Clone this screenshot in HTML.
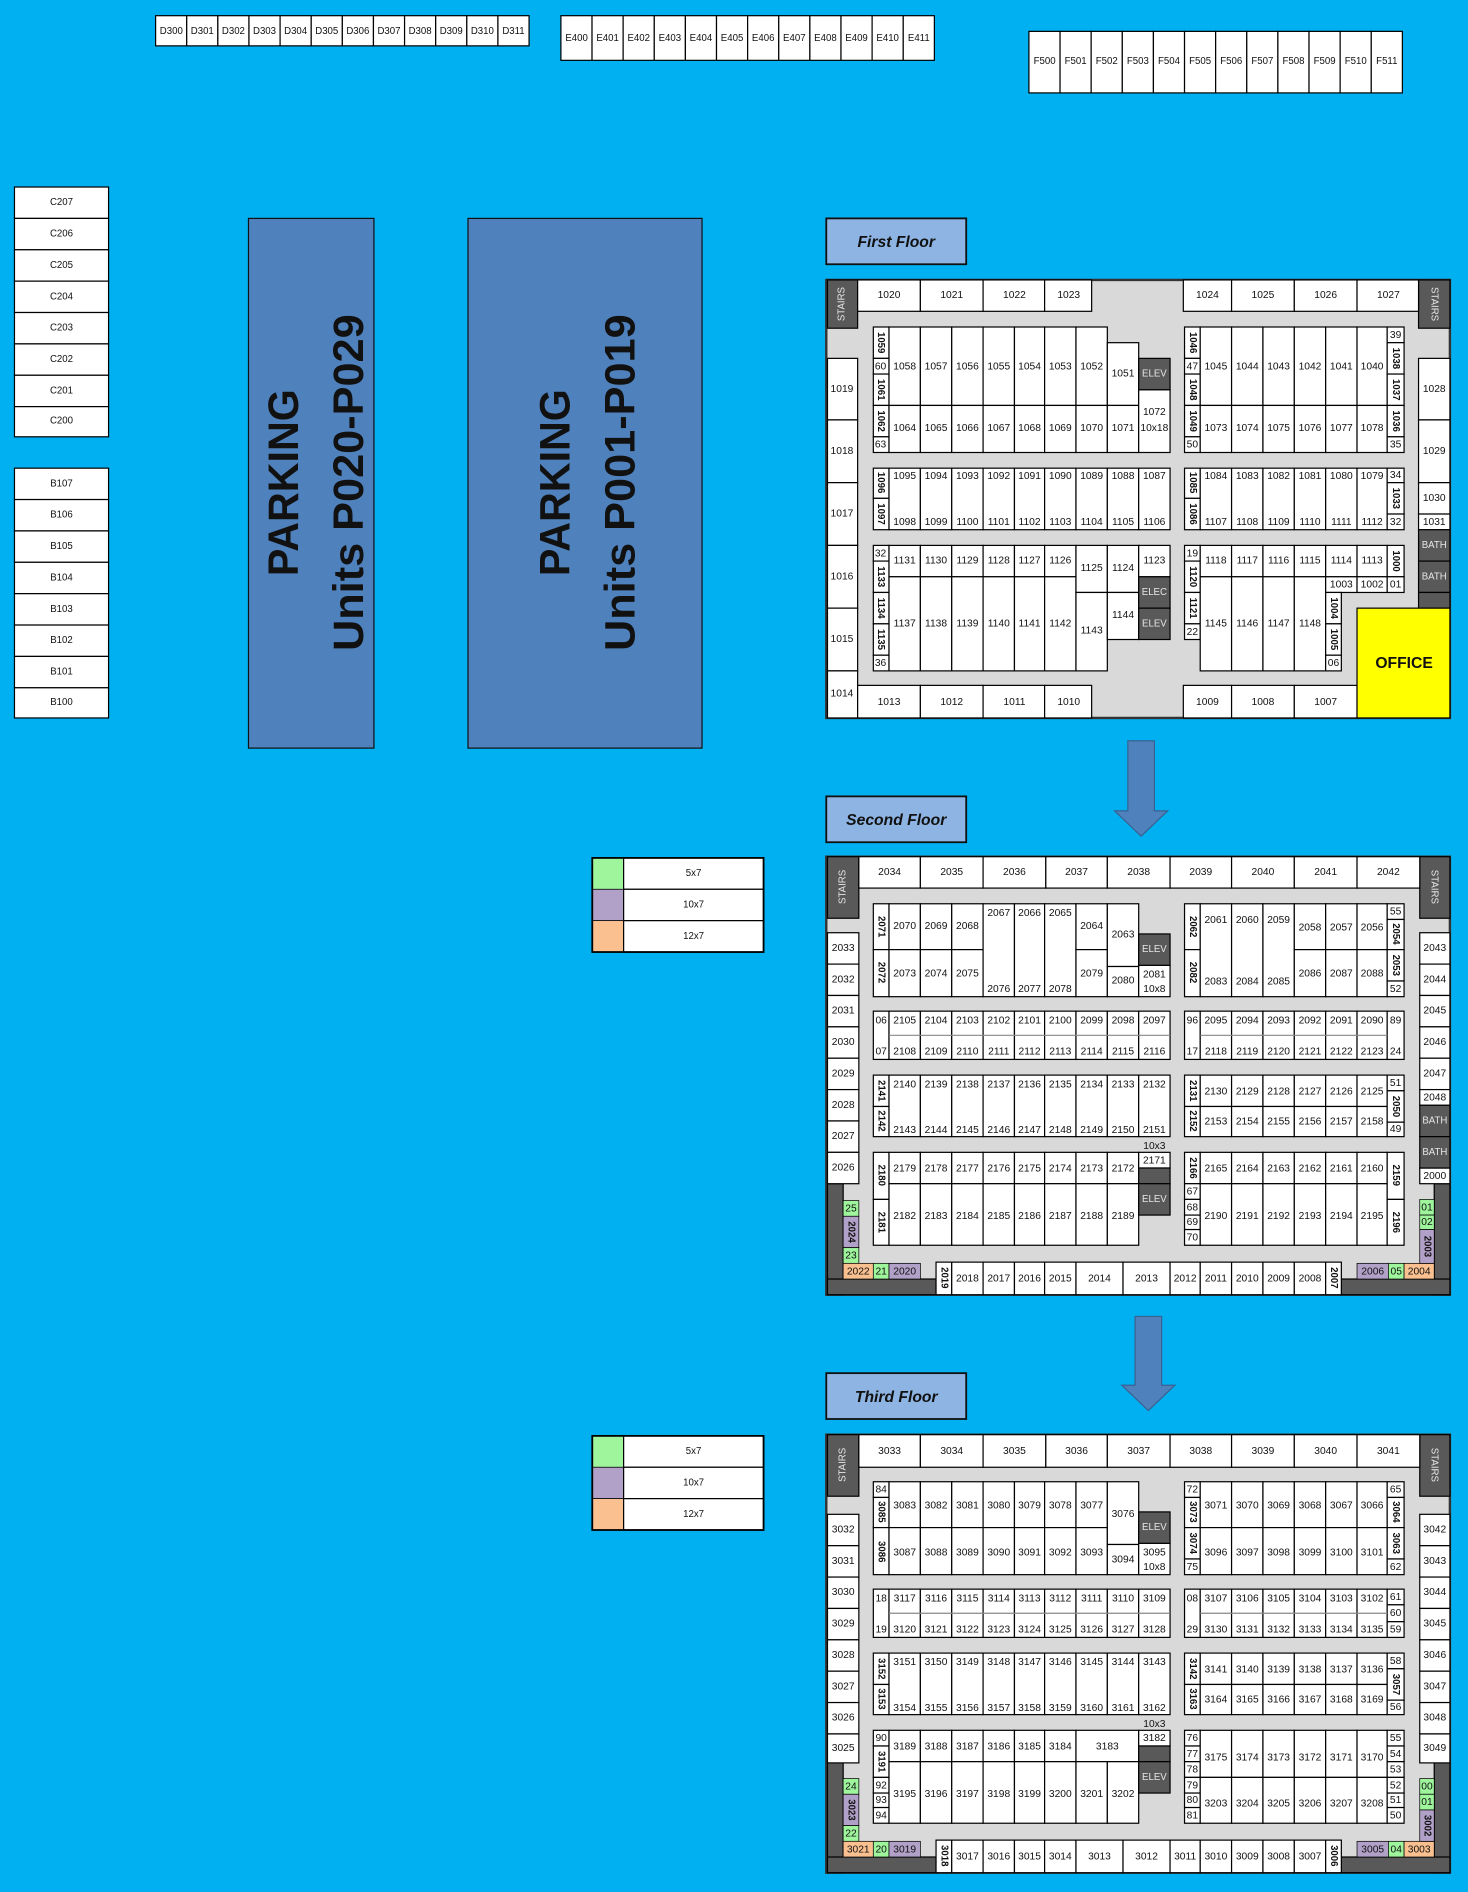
<!DOCTYPE html>
<html><head><meta charset="utf-8"><style>
html,body{margin:0;padding:0;background:#00b0f0;}
svg{display:block}
text{font-family:"Liberation Sans",sans-serif;font-size:8.5px;text-anchor:middle;dominant-baseline:central;fill:#111}
.c rect,rect.c{fill:#fff;stroke:#000;stroke-width:1}
rect.k{fill:#595959;stroke:#000;stroke-width:1}
rect.g{fill:#9ef59c;stroke:#000;stroke-width:.6}
rect.p{fill:#b1a0c7;stroke:#000;stroke-width:.6}
rect.o{fill:#fac090;stroke:#000;stroke-width:.6}
text.w{fill:#e6e6e6;font-size:8px}
text.v{font-weight:bold;font-size:8px}
text.s{font-size:8px}
</style></head><body>
<svg width="1468" height="1892" viewBox="0 0 1217 1568" preserveAspectRatio="none" xmlns="http://www.w3.org/2000/svg">
<rect x="0" y="0" width="1217" height="1568" fill="#00b0f0"/>

<!-- D row -->
<g class="c">
<rect x="129" y="13" width="25.8" height="25"/><text x="142" y="26" class="s">D300</text>
<rect x="154.8" y="13" width="25.8" height="25"/><text x="167.7" y="26" class="s">D301</text>
<rect x="180.6" y="13" width="25.8" height="25"/><text x="193.5" y="26" class="s">D302</text>
<rect x="206.4" y="13" width="25.8" height="25"/><text x="219.3" y="26" class="s">D303</text>
<rect x="232.2" y="13" width="25.8" height="25"/><text x="245.1" y="26" class="s">D304</text>
<rect x="258" y="13" width="25.8" height="25"/><text x="270.9" y="26" class="s">D305</text>
<rect x="283.8" y="13" width="25.8" height="25"/><text x="296.7" y="26" class="s">D306</text>
<rect x="309.6" y="13" width="25.8" height="25"/><text x="322.5" y="26" class="s">D307</text>
<rect x="335.4" y="13" width="25.8" height="25"/><text x="348.3" y="26" class="s">D308</text>
<rect x="361.2" y="13" width="25.8" height="25"/><text x="374.1" y="26" class="s">D309</text>
<rect x="387" y="13" width="25.8" height="25"/><text x="399.9" y="26" class="s">D310</text>
<rect x="412.8" y="13" width="25.8" height="25"/><text x="425.7" y="26" class="s">D311</text>
</g>
<!-- E row -->
<g class="c">
<rect x="465" y="13" width="25.8" height="37"/><text x="478" y="32" class="s">E400</text>
<rect x="490.8" y="13" width="25.8" height="37"/><text x="503.7" y="32" class="s">E401</text>
<rect x="516.6" y="13" width="25.8" height="37"/><text x="529.5" y="32" class="s">E402</text>
<rect x="542.4" y="13" width="25.8" height="37"/><text x="555.3" y="32" class="s">E403</text>
<rect x="568.2" y="13" width="25.8" height="37"/><text x="581.1" y="32" class="s">E404</text>
<rect x="594" y="13" width="25.8" height="37"/><text x="606.9" y="32" class="s">E405</text>
<rect x="619.8" y="13" width="25.8" height="37"/><text x="632.7" y="32" class="s">E406</text>
<rect x="645.6" y="13" width="25.8" height="37"/><text x="658.5" y="32" class="s">E407</text>
<rect x="671.4" y="13" width="25.8" height="37"/><text x="684.3" y="32" class="s">E408</text>
<rect x="697.2" y="13" width="25.8" height="37"/><text x="710.1" y="32" class="s">E409</text>
<rect x="723" y="13" width="25.8" height="37"/><text x="735.9" y="32" class="s">E410</text>
<rect x="748.8" y="13" width="25.8" height="37"/><text x="761.7" y="32" class="s">E411</text>
</g>
<!-- F row -->
<g class="c">
<rect x="853" y="26" width="25.8" height="51"/><text x="866" y="51" class="s">F500</text>
<rect x="878.8" y="26" width="25.8" height="51"/><text x="891.7" y="51" class="s">F501</text>
<rect x="904.6" y="26" width="25.8" height="51"/><text x="917.5" y="51" class="s">F502</text>
<rect x="930.4" y="26" width="25.8" height="51"/><text x="943.3" y="51" class="s">F503</text>
<rect x="956.2" y="26" width="25.8" height="51"/><text x="969.1" y="51" class="s">F504</text>
<rect x="982" y="26" width="25.8" height="51"/><text x="994.9" y="51" class="s">F505</text>
<rect x="1007.8" y="26" width="25.8" height="51"/><text x="1020.7" y="51" class="s">F506</text>
<rect x="1033.6" y="26" width="25.8" height="51"/><text x="1046.5" y="51" class="s">F507</text>
<rect x="1059.4" y="26" width="25.8" height="51"/><text x="1072.3" y="51" class="s">F508</text>
<rect x="1085.2" y="26" width="25.8" height="51"/><text x="1098.1" y="51" class="s">F509</text>
<rect x="1111" y="26" width="25.8" height="51"/><text x="1123.9" y="51" class="s">F510</text>
<rect x="1136.8" y="26" width="25.8" height="51"/><text x="1149.7" y="51" class="s">F511</text>
</g>
<!-- C column -->
<g class="c">
<rect x="12" y="155" width="78" height="26"/><text x="51" y="168" class="s">C207</text>
<rect x="12" y="181" width="78" height="26"/><text x="51" y="194" class="s">C206</text>
<rect x="12" y="207" width="78" height="26"/><text x="51" y="220" class="s">C205</text>
<rect x="12" y="233" width="78" height="26"/><text x="51" y="246" class="s">C204</text>
<rect x="12" y="259" width="78" height="26"/><text x="51" y="272" class="s">C203</text>
<rect x="12" y="285" width="78" height="26"/><text x="51" y="298" class="s">C202</text>
<rect x="12" y="311" width="78" height="26"/><text x="51" y="324" class="s">C201</text>
<rect x="12" y="337" width="78" height="25"/><text x="51" y="349" class="s">C200</text>
</g>
<g class="c">
<rect x="12" y="388" width="78" height="26"/><text x="51" y="401" class="s">B107</text>
<rect x="12" y="414" width="78" height="26"/><text x="51" y="427" class="s">B106</text>
<rect x="12" y="440" width="78" height="26"/><text x="51" y="453" class="s">B105</text>
<rect x="12" y="466" width="78" height="26"/><text x="51" y="479" class="s">B104</text>
<rect x="12" y="492" width="78" height="26"/><text x="51" y="505" class="s">B103</text>
<rect x="12" y="518" width="78" height="26"/><text x="51" y="531" class="s">B102</text>
<rect x="12" y="544" width="78" height="26"/><text x="51" y="557" class="s">B101</text>
<rect x="12" y="570" width="78" height="25"/><text x="51" y="582" class="s">B100</text>
</g>

<!-- Parking -->
<rect x="206" y="181" width="104" height="439" fill="#4f81bd" stroke="#111" stroke-width="1"/>
<rect x="388" y="181" width="194" height="439" fill="#4f81bd" stroke="#111" stroke-width="1"/>
<g style="font-weight:bold">
<text x="247" y="400" transform="rotate(-90 247 400)" style="font-size:35px;dominant-baseline:alphabetic;font-weight:bold" textLength="155" lengthAdjust="spacingAndGlyphs">PARKING</text>
<text x="301" y="400" transform="rotate(-90 301 400)" style="font-size:35px;dominant-baseline:alphabetic;font-weight:bold" textLength="279" lengthAdjust="spacingAndGlyphs">Units P020-P029</text>
<text x="472" y="400" transform="rotate(-90 472 400)" style="font-size:35px;dominant-baseline:alphabetic;font-weight:bold" textLength="155" lengthAdjust="spacingAndGlyphs">PARKING</text>
<text x="526" y="400" transform="rotate(-90 526 400)" style="font-size:35px;dominant-baseline:alphabetic;font-weight:bold" textLength="279" lengthAdjust="spacingAndGlyphs">Units P001-P019</text>
</g>

<!-- Floor labels -->
<rect x="685" y="181" width="116" height="38" fill="#8db4e2" stroke="#111" stroke-width="1.5"/>
<text x="743" y="201" style="font-size:13px;font-weight:bold;font-style:italic">First Floor</text>
<rect x="685" y="660" width="116" height="38" fill="#8db4e2" stroke="#111" stroke-width="1.5"/>
<text x="743" y="680" style="font-size:13px;font-weight:bold;font-style:italic">Second Floor</text>
<rect x="685" y="1138" width="116" height="38" fill="#8db4e2" stroke="#111" stroke-width="1.5"/>
<text x="743" y="1158" style="font-size:13px;font-weight:bold;font-style:italic">Third Floor</text>

<!-- Arrows -->
<polygon points="935,614 957,614 957,672 968,672 946,693 924,672 935,672" fill="#4f81bd" stroke="#3a6190" stroke-width="1"/>
<polygon points="941,1091 963,1091 963,1148 974,1148 952,1169 930,1148 941,1148" fill="#4f81bd" stroke="#3a6190" stroke-width="1"/>

<!-- Legends -->
<rect x="491" y="711" width="26" height="26" class="g"/><rect x="517" y="711" width="116" height="26" class="c"/><text x="575" y="724" class="s">5x7</text>
<rect x="491" y="737" width="26" height="26" class="p"/><rect x="517" y="737" width="116" height="26" class="c"/><text x="575" y="750" class="s">10x7</text>
<rect x="491" y="763" width="26" height="26" class="o"/><rect x="517" y="763" width="116" height="26" class="c"/><text x="575" y="776" class="s">12x7</text>
<rect x="491" y="711" width="142" height="78" fill="none" stroke="#000" stroke-width="1.5"/>
<rect x="491" y="1190" width="26" height="26" class="g"/><rect x="517" y="1190" width="116" height="26" class="c"/><text x="575" y="1203" class="s">5x7</text>
<rect x="491" y="1216" width="26" height="26" class="p"/><rect x="517" y="1216" width="116" height="26" class="c"/><text x="575" y="1229" class="s">10x7</text>
<rect x="491" y="1242" width="26" height="26" class="o"/><rect x="517" y="1242" width="116" height="26" class="c"/><text x="575" y="1255" class="s">12x7</text>
<rect x="491" y="1190" width="142" height="78" fill="none" stroke="#000" stroke-width="1.5"/>

<!-- ================= FLOOR 1 ================= -->
<rect x="685" y="232" width="517" height="363" fill="#d9d9d9" stroke="#333" stroke-width="2"/>
<rect class="k" x="686" y="232" width="25" height="40"/><text class="w" x="698" y="252" transform="rotate(-90 698 252)">STAIRS</text>
<rect class="k" x="1176" y="232" width="26" height="40"/><text class="w" x="1189" y="252" transform="rotate(90 1189 252)">STAIRS</text>
<g class="c">
<rect x="711" y="232" width="52" height="26"/><text x="737" y="245">1020</text>
<rect x="763" y="232" width="52" height="26"/><text x="789" y="245">1021</text>
<rect x="815" y="232" width="51" height="26"/><text x="841" y="245">1022</text>
<rect x="866" y="232" width="39" height="26"/><text x="886" y="245">1023</text>
<rect x="981" y="232" width="40" height="26"/><text x="1001" y="245">1024</text>
<rect x="1021" y="232" width="52" height="26"/><text x="1047" y="245">1025</text>
<rect x="1073" y="232" width="52" height="26"/><text x="1099" y="245">1026</text>
<rect x="1125" y="232" width="51" height="26"/><text x="1151" y="245">1027</text>
<rect x="686" y="297" width="25" height="51"/><text x="698" y="323">1019</text>
<rect x="686" y="348" width="25" height="52"/><text x="698" y="374">1018</text>
<rect x="686" y="400" width="25" height="52"/><text x="698" y="426">1017</text>
<rect x="686" y="452" width="25" height="52"/><text x="698" y="478">1016</text>
<rect x="686" y="504" width="25" height="52"/><text x="698" y="530">1015</text>
<rect x="686" y="556" width="25" height="39"/><text x="698" y="575">1014</text>
<rect x="711" y="568" width="52" height="27"/><text x="737" y="582">1013</text>
<rect x="763" y="568" width="52" height="27"/><text x="789" y="582">1012</text>
<rect x="815" y="568" width="51" height="27"/><text x="841" y="582">1011</text>
<rect x="866" y="568" width="39" height="27"/><text x="886" y="582">1010</text>
<rect x="981" y="568" width="40" height="27"/><text x="1001" y="582">1009</text>
<rect x="1021" y="568" width="52" height="27"/><text x="1047" y="582">1008</text>
<rect x="1073" y="568" width="52" height="27"/><text x="1099" y="582">1007</text>
<rect x="1176" y="297" width="26" height="51"/><text x="1189" y="323">1028</text>
<rect x="1176" y="348" width="26" height="52"/><text x="1189" y="374">1029</text>
<rect x="1176" y="400" width="26" height="26"/><text x="1189" y="413">1030</text>
<rect x="1176" y="426" width="26" height="13"/><text x="1189" y="433">1031</text>
</g>
<rect class="k" x="1176" y="439" width="26" height="26"/><text class="w" x="1189" y="452">BATH</text>
<rect class="k" x="1176" y="465" width="26" height="26"/><text class="w" x="1189" y="478">BATH</text>
<rect class="k" x="1176" y="491" width="26" height="13"/>
<rect x="1125" y="504" width="77" height="91" fill="#ffff00" stroke="#000" stroke-width="1"/>
<text x="1164" y="550" style="font-size:13px;font-weight:bold">OFFICE</text>

<!-- F1 Block A -->
<g class="c">
<rect x="724" y="271" width="13" height="26"/><text class="v" x="730" y="284" transform="rotate(90 730 284)">1059</text>
<rect x="724" y="297" width="13" height="13"/><text x="730" y="304">60</text>
<rect x="724" y="310" width="13" height="26"/><text class="v" x="730" y="323" transform="rotate(90 730 323)">1061</text>
<rect x="724" y="336" width="13" height="26"/><text class="v" x="730" y="349" transform="rotate(90 730 349)">1062</text>
<rect x="724" y="362" width="13" height="13"/><text x="730" y="369">63</text>
<rect x="737" y="271" width="26" height="65"/><text x="750" y="304">1058</text>
<rect x="763" y="271" width="26" height="65"/><text x="776" y="304">1057</text>
<rect x="789" y="271" width="26" height="65"/><text x="802" y="304">1056</text>
<rect x="815" y="271" width="26" height="65"/><text x="828" y="304">1055</text>
<rect x="841" y="271" width="25" height="65"/><text x="853.5" y="304">1054</text>
<rect x="866" y="271" width="26" height="65"/><text x="879" y="304">1053</text>
<rect x="892" y="271" width="26" height="65"/><text x="905" y="304">1052</text>
<rect x="918" y="284" width="26" height="52"/><text x="931" y="310">1051</text>
<rect x="737" y="336" width="26" height="39"/><text x="750" y="355">1064</text>
<rect x="763" y="336" width="26" height="39"/><text x="776" y="355">1065</text>
<rect x="789" y="336" width="26" height="39"/><text x="802" y="355">1066</text>
<rect x="815" y="336" width="26" height="39"/><text x="828" y="355">1067</text>
<rect x="841" y="336" width="25" height="39"/><text x="853.5" y="355">1068</text>
<rect x="866" y="336" width="26" height="39"/><text x="879" y="355">1069</text>
<rect x="892" y="336" width="26" height="39"/><text x="905" y="355">1070</text>
<rect x="918" y="336" width="26" height="39"/><text x="931" y="355">1071</text>
<rect x="944" y="323" width="26" height="52"/><text x="957" y="342">1072</text><text x="957" y="355">10x18</text>
</g>
<rect class="k" x="944" y="297" width="26" height="26"/><text class="w" x="957" y="310">ELEV</text>
<!-- F1 Block B -->
<g class="c">
<rect x="982" y="271" width="13" height="26"/><text class="v" x="988.5" y="284" transform="rotate(90 988.5 284)">1046</text>
<rect x="982" y="297" width="13" height="13"/><text x="988.5" y="304">47</text>
<rect x="982" y="310" width="13" height="26"/><text class="v" x="988.5" y="323" transform="rotate(90 988.5 323)">1048</text>
<rect x="982" y="336" width="13" height="26"/><text class="v" x="988.5" y="349" transform="rotate(90 988.5 349)">1049</text>
<rect x="982" y="362" width="13" height="13"/><text x="988.5" y="369">50</text>
<rect x="995" y="271" width="26" height="65"/><text x="1008" y="304">1045</text>
<rect x="1021" y="271" width="26" height="65"/><text x="1034" y="304">1044</text>
<rect x="1047" y="271" width="26" height="65"/><text x="1060" y="304">1043</text>
<rect x="1073" y="271" width="26" height="65"/><text x="1086" y="304">1042</text>
<rect x="1099" y="271" width="26" height="65"/><text x="1112" y="304">1041</text>
<rect x="1125" y="271" width="25" height="65"/><text x="1137.5" y="304">1040</text>
<rect x="995" y="336" width="26" height="39"/><text x="1008" y="355">1073</text>
<rect x="1021" y="336" width="26" height="39"/><text x="1034" y="355">1074</text>
<rect x="1047" y="336" width="26" height="39"/><text x="1060" y="355">1075</text>
<rect x="1073" y="336" width="26" height="39"/><text x="1086" y="355">1076</text>
<rect x="1099" y="336" width="26" height="39"/><text x="1112" y="355">1077</text>
<rect x="1125" y="336" width="25" height="39"/><text x="1137.5" y="355">1078</text>
<rect x="1150" y="271" width="14" height="13"/><text x="1157" y="278">39</text>
<rect x="1150" y="284" width="14" height="26"/><text class="v" x="1157" y="297" transform="rotate(90 1157 297)">1038</text>
<rect x="1150" y="310" width="14" height="26"/><text class="v" x="1157" y="323" transform="rotate(90 1157 323)">1037</text>
<rect x="1150" y="336" width="14" height="26"/><text class="v" x="1157" y="349" transform="rotate(90 1157 349)">1036</text>
<rect x="1150" y="362" width="14" height="13"/><text x="1157" y="369">35</text>
</g>
<!-- F1 Block C -->
<g class="c">
<rect x="724" y="388" width="13" height="25"/><text class="v" x="730" y="400" transform="rotate(90 730 400)">1096</text>
<rect x="724" y="413" width="13" height="26"/><text class="v" x="730" y="426" transform="rotate(90 730 426)">1097</text>
<rect x="737" y="388" width="26" height="51"/><text x="750" y="395">1095</text><text x="750" y="433">1098</text>
<rect x="763" y="388" width="26" height="51"/><text x="776" y="395">1094</text><text x="776" y="433">1099</text>
<rect x="789" y="388" width="26" height="51"/><text x="802" y="395">1093</text><text x="802" y="433">1100</text>
<rect x="815" y="388" width="26" height="51"/><text x="828" y="395">1092</text><text x="828" y="433">1101</text>
<rect x="841" y="388" width="25" height="51"/><text x="853.5" y="395">1091</text><text x="853.5" y="433">1102</text>
<rect x="866" y="388" width="26" height="51"/><text x="879" y="395">1090</text><text x="879" y="433">1103</text>
<rect x="892" y="388" width="26" height="51"/><text x="905" y="395">1089</text><text x="905" y="433">1104</text>
<rect x="918" y="388" width="26" height="51"/><text x="931" y="395">1088</text><text x="931" y="433">1105</text>
<rect x="944" y="388" width="26" height="51"/><text x="957" y="395">1087</text><text x="957" y="433">1106</text>
</g>
<!-- F1 Block D -->
<g class="c">
<rect x="982" y="388" width="13" height="25"/><text class="v" x="988.5" y="400" transform="rotate(90 988.5 400)">1085</text>
<rect x="982" y="413" width="13" height="26"/><text class="v" x="988.5" y="426" transform="rotate(90 988.5 426)">1086</text>
<rect x="995" y="388" width="26" height="51"/><text x="1008" y="395">1084</text><text x="1008" y="433">1107</text>
<rect x="1021" y="388" width="26" height="51"/><text x="1034" y="395">1083</text><text x="1034" y="433">1108</text>
<rect x="1047" y="388" width="26" height="51"/><text x="1060" y="395">1082</text><text x="1060" y="433">1109</text>
<rect x="1073" y="388" width="26" height="51"/><text x="1086" y="395">1081</text><text x="1086" y="433">1110</text>
<rect x="1099" y="388" width="26" height="51"/><text x="1112" y="395">1080</text><text x="1112" y="433">1111</text>
<rect x="1125" y="388" width="25" height="51"/><text x="1137.5" y="395">1079</text><text x="1137.5" y="433">1112</text>
<rect x="1150" y="388" width="14" height="12"/><text x="1157" y="394">34</text>
<rect x="1150" y="400" width="14" height="26"/><text class="v" x="1157" y="413" transform="rotate(90 1157 413)">1033</text>
<rect x="1150" y="426" width="14" height="13"/><text x="1157" y="433">32</text>
</g>
<!-- F1 Block E -->
<g class="c">
<rect x="724" y="452" width="13" height="13"/><text x="730" y="459">32</text>
<rect x="724" y="465" width="13" height="26"/><text class="v" x="730" y="478" transform="rotate(90 730 478)">1133</text>
<rect x="724" y="491" width="13" height="26"/><text class="v" x="730" y="504" transform="rotate(90 730 504)">1134</text>
<rect x="724" y="517" width="13" height="26"/><text class="v" x="730" y="530" transform="rotate(90 730 530)">1135</text>
<rect x="724" y="543" width="13" height="13"/><text x="730" y="550">36</text>
<rect x="737" y="452" width="26" height="26"/><text x="750" y="465">1131</text>
<rect x="763" y="452" width="26" height="26"/><text x="776" y="465">1130</text>
<rect x="789" y="452" width="26" height="26"/><text x="802" y="465">1129</text>
<rect x="815" y="452" width="26" height="26"/><text x="828" y="465">1128</text>
<rect x="841" y="452" width="25" height="26"/><text x="853.5" y="465">1127</text>
<rect x="866" y="452" width="26" height="26"/><text x="879" y="465">1126</text>
<rect x="737" y="478" width="26" height="78"/><text x="750" y="517">1137</text>
<rect x="763" y="478" width="26" height="78"/><text x="776" y="517">1138</text>
<rect x="789" y="478" width="26" height="78"/><text x="802" y="517">1139</text>
<rect x="815" y="478" width="26" height="78"/><text x="828" y="517">1140</text>
<rect x="841" y="478" width="25" height="78"/><text x="853.5" y="517">1141</text>
<rect x="866" y="478" width="26" height="78"/><text x="879" y="517">1142</text>
<rect x="892" y="452" width="26" height="39"/><text x="905" y="471">1125</text>
<rect x="892" y="491" width="26" height="65"/><text x="905" y="523">1143</text>
<rect x="918" y="452" width="26" height="39"/><text x="931" y="471">1124</text>
<rect x="918" y="491" width="26" height="39"/><text x="931" y="510">1144</text>
<rect x="944" y="452" width="26" height="26"/><text x="957" y="465">1123</text>
</g>
<rect class="k" x="944" y="478" width="26" height="26"/><text class="w" x="957" y="491">ELEC</text>
<rect class="k" x="944" y="504" width="26" height="26"/><text class="w" x="957" y="517">ELEV</text>
<!-- F1 Block F -->
<g class="c">
<rect x="982" y="452" width="13" height="13"/><text x="988.5" y="459">19</text>
<rect x="982" y="465" width="13" height="26"/><text class="v" x="988.5" y="478" transform="rotate(90 988.5 478)">1120</text>
<rect x="982" y="491" width="13" height="26"/><text class="v" x="988.5" y="504" transform="rotate(90 988.5 504)">1121</text>
<rect x="982" y="517" width="13" height="13"/><text x="988.5" y="524">22</text>
<rect x="995" y="452" width="26" height="26"/><text x="1008" y="465">1118</text>
<rect x="1021" y="452" width="26" height="26"/><text x="1034" y="465">1117</text>
<rect x="1047" y="452" width="26" height="26"/><text x="1060" y="465">1116</text>
<rect x="1073" y="452" width="26" height="26"/><text x="1086" y="465">1115</text>
<rect x="1099" y="452" width="26" height="26"/><text x="1112" y="465">1114</text>
<rect x="1125" y="452" width="25" height="26"/><text x="1137.5" y="465">1113</text>
<rect x="995" y="478" width="26" height="78"/><text x="1008" y="517">1145</text>
<rect x="1021" y="478" width="26" height="78"/><text x="1034" y="517">1146</text>
<rect x="1047" y="478" width="26" height="78"/><text x="1060" y="517">1147</text>
<rect x="1073" y="478" width="26" height="78"/><text x="1086" y="517">1148</text>
<rect x="1099" y="478" width="26" height="13"/><text x="1112" y="485">1003</text>
<rect x="1125" y="478" width="25" height="13"/><text x="1137.5" y="485">1002</text>
<rect x="1150" y="452" width="14" height="26"/><text class="v" x="1157" y="465" transform="rotate(90 1157 465)">1000</text>
<rect x="1150" y="478" width="14" height="13"/><text x="1157" y="485">01</text>
<rect x="1099" y="491" width="13" height="26"/><text class="v" x="1105.5" y="504" transform="rotate(90 1105.5 504)">1004</text>
<rect x="1099" y="517" width="13" height="26"/><text class="v" x="1105.5" y="530" transform="rotate(90 1105.5 530)">1005</text>
<rect x="1099" y="543" width="13" height="13"/><text x="1105.5" y="550">06</text>
</g>

<!-- ================= FLOOR 2 ================= -->
<rect x="685" y="710" width="517" height="363" fill="#d9d9d9" stroke="#333" stroke-width="2"/>
<rect class="k" x="686" y="710" width="26" height="51"/><text class="w" x="699" y="735" transform="rotate(-90 699 735)">STAIRS</text>
<rect class="k" x="1177" y="710" width="25" height="51"/><text class="w" x="1189" y="735" transform="rotate(90 1189 735)">STAIRS</text>
<rect class="k" x="686" y="981" width="13" height="92"/><rect class="k" x="686" y="1060" width="90" height="13"/>
<rect class="k" x="1189" y="981" width="13" height="92"/><rect class="k" x="1112" y="1060" width="90" height="13"/>
<g class="c">
<rect x="712" y="710" width="51" height="26"/><text x="737.5" y="723">2034</text>
<rect x="763" y="710" width="52" height="26"/><text x="789" y="723">2035</text>
<rect x="815" y="710" width="52" height="26"/><text x="841" y="723">2036</text>
<rect x="867" y="710" width="51" height="26"/><text x="892.5" y="723">2037</text>
<rect x="918" y="710" width="52" height="26"/><text x="944" y="723">2038</text>
<rect x="970" y="710" width="51" height="26"/><text x="995.5" y="723">2039</text>
<rect x="1021" y="710" width="52" height="26"/><text x="1047" y="723">2040</text>
<rect x="1073" y="710" width="52" height="26"/><text x="1099" y="723">2041</text>
<rect x="1125" y="710" width="52" height="26"/><text x="1151" y="723">2042</text>
<rect x="686" y="773" width="26" height="26"/><text x="699" y="786">2033</text>
<rect x="686" y="799" width="26" height="26"/><text x="699" y="812">2032</text>
<rect x="686" y="825" width="26" height="26"/><text x="699" y="838">2031</text>
<rect x="686" y="851" width="26" height="26"/><text x="699" y="864">2030</text>
<rect x="686" y="877" width="26" height="26"/><text x="699" y="890">2029</text>
<rect x="686" y="903" width="26" height="26"/><text x="699" y="916">2028</text>
<rect x="686" y="929" width="26" height="26"/><text x="699" y="942">2027</text>
<rect x="686" y="955" width="26" height="26"/><text x="699" y="968">2026</text>
<rect x="1177" y="773" width="25" height="26"/><text x="1189.5" y="786">2043</text>
<rect x="1177" y="799" width="25" height="26"/><text x="1189.5" y="812">2044</text>
<rect x="1177" y="825" width="25" height="26"/><text x="1189.5" y="838">2045</text>
<rect x="1177" y="851" width="25" height="26"/><text x="1189.5" y="864">2046</text>
<rect x="1177" y="877" width="25" height="26"/><text x="1189.5" y="890">2047</text>
<rect x="1177" y="903" width="25" height="13"/><text x="1189.5" y="910">2048</text>
<rect x="1177" y="968" width="25" height="13"/><text x="1189.5" y="975">2000</text>
</g>
<rect class="k" x="1177" y="916" width="25" height="26"/><text class="w" x="1189.5" y="929">BATH</text>
<rect class="k" x="1177" y="942" width="25" height="26"/><text class="w" x="1189.5" y="955">BATH</text>
<rect class="g" x="699" y="995" width="13" height="13"/><text x="705.5" y="1002">25</text>
<rect class="p" x="699" y="1008" width="13" height="26"/><text class="v" x="705.5" y="1021" transform="rotate(90 705.5 1021)">2024</text>
<rect class="g" x="699" y="1034" width="13" height="13"/><text x="705.5" y="1041">23</text>
<rect class="o" x="699" y="1047" width="25" height="13"/><text x="711.5" y="1054">2022</text>
<rect class="g" x="724" y="1047" width="13" height="13"/><text x="730.5" y="1054">21</text>
<rect class="p" x="737" y="1047" width="26" height="13"/><text x="750" y="1054">2020</text>
<rect class="p" x="1125" y="1047" width="26" height="13"/><text x="1138" y="1054">2006</text>
<rect class="g" x="1151" y="1047" width="13" height="13"/><text x="1157.5" y="1054">05</text>
<rect class="o" x="1164" y="1047" width="25" height="13"/><text x="1176.5" y="1054">2004</text>
<rect class="g" x="1177" y="994" width="12" height="13"/><text x="1183" y="1001">01</text>
<rect class="g" x="1177" y="1007" width="12" height="12"/><text x="1183" y="1013">02</text>
<rect class="p" x="1177" y="1019" width="12" height="28"/><text class="v" x="1183" y="1033" transform="rotate(90 1183 1033)">2003</text>
<g class="c">
<rect x="776" y="1046" width="13" height="27"/><text class="v" x="782.5" y="1059" transform="rotate(90 782.5 1059)">2019</text>
<rect x="789" y="1046" width="26" height="27"/><text x="802" y="1060">2018</text>
<rect x="815" y="1046" width="26" height="27"/><text x="828" y="1060">2017</text>
<rect x="841" y="1046" width="25" height="27"/><text x="853.5" y="1060">2016</text>
<rect x="866" y="1046" width="26" height="27"/><text x="879" y="1060">2015</text>
<rect x="892" y="1046" width="39" height="27"/><text x="911.5" y="1060">2014</text>
<rect x="931" y="1046" width="39" height="27"/><text x="950.5" y="1060">2013</text>
<rect x="970" y="1046" width="25" height="27"/><text x="982.5" y="1060">2012</text>
<rect x="995" y="1046" width="26" height="27"/><text x="1008" y="1060">2011</text>
<rect x="1021" y="1046" width="26" height="27"/><text x="1034" y="1060">2010</text>
<rect x="1047" y="1046" width="26" height="27"/><text x="1060" y="1060">2009</text>
<rect x="1073" y="1046" width="26" height="27"/><text x="1086" y="1060">2008</text>
<rect x="1099" y="1046" width="13" height="27"/><text class="v" x="1105.5" y="1059" transform="rotate(90 1105.5 1059)">2007</text>
</g>
<!-- F2 B1 left -->
<g class="c">
<rect x="724" y="749" width="13" height="38"/><text class="v" x="730.5" y="768" transform="rotate(90 730.5 768)">2071</text>
<rect x="724" y="787" width="13" height="39"/><text class="v" x="730.5" y="806" transform="rotate(90 730.5 806)">2072</text>
<rect x="737" y="749" width="26" height="38"/><text x="750" y="768">2070</text>
<rect x="763" y="749" width="26" height="38"/><text x="776" y="768">2069</text>
<rect x="789" y="749" width="26" height="38"/><text x="802" y="768">2068</text>
<rect x="737" y="787" width="26" height="39"/><text x="750" y="807">2073</text>
<rect x="763" y="787" width="26" height="39"/><text x="776" y="807">2074</text>
<rect x="789" y="787" width="26" height="39"/><text x="802" y="807">2075</text>
<rect x="815" y="749" width="26" height="77"/><text x="828" y="757">2067</text><text x="828" y="820">2076</text>
<rect x="841" y="749" width="25" height="77"/><text x="853.5" y="757">2066</text><text x="853.5" y="820">2077</text>
<rect x="866" y="749" width="26" height="77"/><text x="879" y="757">2065</text><text x="879" y="820">2078</text>
<rect x="892" y="749" width="26" height="38"/><text x="905" y="768">2064</text>
<rect x="892" y="787" width="26" height="39"/><text x="905" y="807">2079</text>
<rect x="918" y="749" width="26" height="52"/><text x="931" y="775">2063</text>
<rect x="918" y="801" width="26" height="25"/><text x="931" y="813">2080</text>
<rect x="944" y="800" width="26" height="26"/><text x="957" y="808">2081</text><text x="957" y="820">10x8</text>
</g>
<rect class="k" x="944" y="774" width="26" height="26"/><text class="w" x="957" y="787">ELEV</text>
<!-- F2 B1 right -->
<g class="c">
<rect x="982" y="749" width="13" height="38"/><text class="v" x="988.5" y="768" transform="rotate(90 988.5 768)">2062</text>
<rect x="982" y="787" width="13" height="39"/><text class="v" x="988.5" y="806" transform="rotate(90 988.5 806)">2082</text>
<rect x="995" y="749" width="26" height="77"/><text x="1008" y="763">2061</text><text x="1008" y="814">2083</text>
<rect x="1021" y="749" width="26" height="77"/><text x="1034" y="763">2060</text><text x="1034" y="814">2084</text>
<rect x="1047" y="749" width="26" height="77"/><text x="1060" y="763">2059</text><text x="1060" y="814">2085</text>
<rect x="1073" y="749" width="26" height="38"/><text x="1086" y="769">2058</text>
<rect x="1099" y="749" width="26" height="38"/><text x="1112" y="769">2057</text>
<rect x="1125" y="749" width="25" height="38"/><text x="1137.5" y="769">2056</text>
<rect x="1073" y="787" width="26" height="39"/><text x="1086" y="807">2086</text>
<rect x="1099" y="787" width="26" height="39"/><text x="1112" y="807">2087</text>
<rect x="1125" y="787" width="25" height="39"/><text x="1137.5" y="807">2088</text>
<rect x="1150" y="749" width="14" height="13"/><text x="1157" y="756">55</text>
<rect x="1150" y="762" width="14" height="25"/><text class="v" x="1157" y="774" transform="rotate(90 1157 774)">2054</text>
<rect x="1150" y="787" width="14" height="26"/><text class="v" x="1157" y="800" transform="rotate(90 1157 800)">2053</text>
<rect x="1150" y="813" width="14" height="13"/><text x="1157" y="820">52</text>
</g>
<!-- F2 B2 -->
<g class="c">
<rect x="724" y="838" width="13" height="40"/><text x="730.5" y="846">06</text><text x="730.5" y="872">07</text>
<rect x="737" y="838" width="26" height="40"/><text x="750" y="846">2105</text><text x="750" y="872">2108</text>
<rect x="763" y="838" width="26" height="40"/><text x="776" y="846">2104</text><text x="776" y="872">2109</text>
<rect x="789" y="838" width="26" height="40"/><text x="802" y="846">2103</text><text x="802" y="872">2110</text>
<rect x="815" y="838" width="26" height="40"/><text x="828" y="846">2102</text><text x="828" y="872">2111</text>
<rect x="841" y="838" width="25" height="40"/><text x="853.5" y="846">2101</text><text x="853.5" y="872">2112</text>
<rect x="866" y="838" width="26" height="40"/><text x="879" y="846">2100</text><text x="879" y="872">2113</text>
<rect x="892" y="838" width="26" height="40"/><text x="905" y="846">2099</text><text x="905" y="872">2114</text>
<rect x="918" y="838" width="26" height="40"/><text x="931" y="846">2098</text><text x="931" y="872">2115</text>
<rect x="944" y="838" width="26" height="40"/><text x="957" y="846">2097</text><text x="957" y="872">2116</text>
<rect x="982" y="838" width="13" height="40"/><text x="988.5" y="846">96</text><text x="988.5" y="872">17</text>
<rect x="995" y="838" width="26" height="40"/><text x="1008" y="846">2095</text><text x="1008" y="872">2118</text>
<rect x="1021" y="838" width="26" height="40"/><text x="1034" y="846">2094</text><text x="1034" y="872">2119</text>
<rect x="1047" y="838" width="26" height="40"/><text x="1060" y="846">2093</text><text x="1060" y="872">2120</text>
<rect x="1073" y="838" width="26" height="40"/><text x="1086" y="846">2092</text><text x="1086" y="872">2121</text>
<rect x="1099" y="838" width="26" height="40"/><text x="1112" y="846">2091</text><text x="1112" y="872">2122</text>
<rect x="1125" y="838" width="25" height="40"/><text x="1137.5" y="846">2090</text><text x="1137.5" y="872">2123</text>
<rect x="1150" y="838" width="14" height="40"/><text x="1157" y="846">89</text><text x="1157" y="872">24</text>
</g>
<line x1="737" y1="858" x2="970" y2="858" stroke="#888" stroke-width="1"/>
<line x1="995" y1="858" x2="1150" y2="858" stroke="#888" stroke-width="1"/>
<!-- F2 B3 -->
<g class="c">
<rect x="724" y="891" width="13" height="26"/><text class="v" x="730.5" y="904" transform="rotate(90 730.5 904)">2141</text>
<rect x="724" y="917" width="13" height="25"/><text class="v" x="730.5" y="929" transform="rotate(90 730.5 929)">2142</text>
<rect x="737" y="891" width="26" height="51"/><text x="750" y="899">2140</text><text x="750" y="937">2143</text>
<rect x="763" y="891" width="26" height="51"/><text x="776" y="899">2139</text><text x="776" y="937">2144</text>
<rect x="789" y="891" width="26" height="51"/><text x="802" y="899">2138</text><text x="802" y="937">2145</text>
<rect x="815" y="891" width="26" height="51"/><text x="828" y="899">2137</text><text x="828" y="937">2146</text>
<rect x="841" y="891" width="25" height="51"/><text x="853.5" y="899">2136</text><text x="853.5" y="937">2147</text>
<rect x="866" y="891" width="26" height="51"/><text x="879" y="899">2135</text><text x="879" y="937">2148</text>
<rect x="892" y="891" width="26" height="51"/><text x="905" y="899">2134</text><text x="905" y="937">2149</text>
<rect x="918" y="891" width="26" height="51"/><text x="931" y="899">2133</text><text x="931" y="937">2150</text>
<rect x="944" y="891" width="26" height="51"/><text x="957" y="899">2132</text><text x="957" y="937">2151</text>
<rect x="982" y="891" width="13" height="26"/><text class="v" x="988.5" y="904" transform="rotate(90 988.5 904)">2131</text>
<rect x="982" y="917" width="13" height="25"/><text class="v" x="988.5" y="929" transform="rotate(90 988.5 929)">2152</text>
<rect x="995" y="891" width="26" height="26"/><text x="1008" y="905">2130</text>
<rect x="1021" y="891" width="26" height="26"/><text x="1034" y="905">2129</text>
<rect x="1047" y="891" width="26" height="26"/><text x="1060" y="905">2128</text>
<rect x="1073" y="891" width="26" height="26"/><text x="1086" y="905">2127</text>
<rect x="1099" y="891" width="26" height="26"/><text x="1112" y="905">2126</text>
<rect x="1125" y="891" width="25" height="26"/><text x="1137.5" y="905">2125</text>
<rect x="995" y="917" width="26" height="25"/><text x="1008" y="930">2153</text>
<rect x="1021" y="917" width="26" height="25"/><text x="1034" y="930">2154</text>
<rect x="1047" y="917" width="26" height="25"/><text x="1060" y="930">2155</text>
<rect x="1073" y="917" width="26" height="25"/><text x="1086" y="930">2156</text>
<rect x="1099" y="917" width="26" height="25"/><text x="1112" y="930">2157</text>
<rect x="1125" y="917" width="25" height="25"/><text x="1137.5" y="930">2158</text>
<rect x="1150" y="891" width="14" height="13"/><text x="1157" y="898">51</text>
<rect x="1150" y="904" width="14" height="26"/><text class="v" x="1157" y="917" transform="rotate(90 1157 917)">2050</text>
<rect x="1150" y="930" width="14" height="12"/><text x="1157" y="936">49</text>
</g>
<text x="957" y="950">10x3</text>
<!-- F2 B4 -->
<g class="c">
<rect x="724" y="955" width="13" height="39"/><text class="v" x="730.5" y="974" transform="rotate(90 730.5 974)">2180</text>
<rect x="724" y="994" width="13" height="38"/><text class="v" x="730.5" y="1013" transform="rotate(90 730.5 1013)">2181</text>
<rect x="737" y="955" width="26" height="26"/><text x="750" y="969">2179</text>
<rect x="763" y="955" width="26" height="26"/><text x="776" y="969">2178</text>
<rect x="789" y="955" width="26" height="26"/><text x="802" y="969">2177</text>
<rect x="815" y="955" width="26" height="26"/><text x="828" y="969">2176</text>
<rect x="841" y="955" width="25" height="26"/><text x="853.5" y="969">2175</text>
<rect x="866" y="955" width="26" height="26"/><text x="879" y="969">2174</text>
<rect x="892" y="955" width="26" height="26"/><text x="905" y="969">2173</text>
<rect x="918" y="955" width="26" height="26"/><text x="931" y="969">2172</text>
<rect x="737" y="981" width="26" height="51"/><text x="750" y="1008">2182</text>
<rect x="763" y="981" width="26" height="51"/><text x="776" y="1008">2183</text>
<rect x="789" y="981" width="26" height="51"/><text x="802" y="1008">2184</text>
<rect x="815" y="981" width="26" height="51"/><text x="828" y="1008">2185</text>
<rect x="841" y="981" width="25" height="51"/><text x="853.5" y="1008">2186</text>
<rect x="866" y="981" width="26" height="51"/><text x="879" y="1008">2187</text>
<rect x="892" y="981" width="26" height="51"/><text x="905" y="1008">2188</text>
<rect x="918" y="981" width="26" height="51"/><text x="931" y="1008">2189</text>
<rect x="944" y="955" width="26" height="13"/><text x="957" y="962">2171</text>
</g>
<rect class="k" x="944" y="968" width="26" height="13"/>
<rect class="k" x="944" y="981" width="26" height="26"/><text class="w" x="957" y="994">ELEV</text>
<g class="c">
<rect x="982" y="955" width="13" height="26"/><text class="v" x="988.5" y="968" transform="rotate(90 988.5 968)">2166</text>
<rect x="982" y="981" width="13" height="13"/><text x="988.5" y="988">67</text>
<rect x="982" y="994" width="13" height="13"/><text x="988.5" y="1001">68</text>
<rect x="982" y="1007" width="13" height="12"/><text x="988.5" y="1013">69</text>
<rect x="982" y="1019" width="13" height="13"/><text x="988.5" y="1026">70</text>
<rect x="995" y="955" width="26" height="26"/><text x="1008" y="969">2165</text>
<rect x="1021" y="955" width="26" height="26"/><text x="1034" y="969">2164</text>
<rect x="1047" y="955" width="26" height="26"/><text x="1060" y="969">2163</text>
<rect x="1073" y="955" width="26" height="26"/><text x="1086" y="969">2162</text>
<rect x="1099" y="955" width="26" height="26"/><text x="1112" y="969">2161</text>
<rect x="1125" y="955" width="25" height="26"/><text x="1137.5" y="969">2160</text>
<rect x="995" y="981" width="26" height="51"/><text x="1008" y="1008">2190</text>
<rect x="1021" y="981" width="26" height="51"/><text x="1034" y="1008">2191</text>
<rect x="1047" y="981" width="26" height="51"/><text x="1060" y="1008">2192</text>
<rect x="1073" y="981" width="26" height="51"/><text x="1086" y="1008">2193</text>
<rect x="1099" y="981" width="26" height="51"/><text x="1112" y="1008">2194</text>
<rect x="1125" y="981" width="25" height="51"/><text x="1137.5" y="1008">2195</text>
<rect x="1150" y="955" width="14" height="39"/><text class="v" x="1157" y="974" transform="rotate(90 1157 974)">2159</text>
<rect x="1150" y="994" width="14" height="38"/><text class="v" x="1157" y="1013" transform="rotate(90 1157 1013)">2196</text>
</g>

<!-- ================= FLOOR 3 ================= -->
<rect x="685" y="1189" width="517" height="363" fill="#d9d9d9" stroke="#333" stroke-width="2"/>
<rect class="k" x="686" y="1189" width="26" height="51"/><text class="w" x="699" y="1214" transform="rotate(-90 699 1214)">STAIRS</text>
<rect class="k" x="1177" y="1189" width="25" height="51"/><text class="w" x="1189" y="1214" transform="rotate(90 1189 1214)">STAIRS</text>
<rect class="k" x="686" y="1460" width="13" height="92"/><rect class="k" x="686" y="1539" width="90" height="13"/>
<rect class="k" x="1189" y="1460" width="13" height="92"/><rect class="k" x="1112" y="1539" width="90" height="13"/>
<g class="c">
<rect x="712" y="1189" width="51" height="27"/><text x="737.5" y="1203">3033</text>
<rect x="763" y="1189" width="52" height="27"/><text x="789" y="1203">3034</text>
<rect x="815" y="1189" width="52" height="27"/><text x="841" y="1203">3035</text>
<rect x="867" y="1189" width="51" height="27"/><text x="892.5" y="1203">3036</text>
<rect x="918" y="1189" width="52" height="27"/><text x="944" y="1203">3037</text>
<rect x="970" y="1189" width="51" height="27"/><text x="995.5" y="1203">3038</text>
<rect x="1021" y="1189" width="52" height="27"/><text x="1047" y="1203">3039</text>
<rect x="1073" y="1189" width="52" height="27"/><text x="1099" y="1203">3040</text>
<rect x="1125" y="1189" width="52" height="27"/><text x="1151" y="1203">3041</text>
<rect x="686" y="1255" width="26" height="26"/><text x="699" y="1268">3032</text>
<rect x="686" y="1281" width="26" height="26"/><text x="699" y="1294">3031</text>
<rect x="686" y="1307" width="26" height="26"/><text x="699" y="1320">3030</text>
<rect x="686" y="1333" width="26" height="26"/><text x="699" y="1346">3029</text>
<rect x="686" y="1359" width="26" height="26"/><text x="699" y="1372">3028</text>
<rect x="686" y="1385" width="26" height="26"/><text x="699" y="1398">3027</text>
<rect x="686" y="1411" width="26" height="26"/><text x="699" y="1424">3026</text>
<rect x="686" y="1437" width="26" height="24"/><text x="699" y="1449">3025</text>
<rect x="1177" y="1255" width="25" height="26"/><text x="1189.5" y="1268">3042</text>
<rect x="1177" y="1281" width="25" height="26"/><text x="1189.5" y="1294">3043</text>
<rect x="1177" y="1307" width="25" height="26"/><text x="1189.5" y="1320">3044</text>
<rect x="1177" y="1333" width="25" height="26"/><text x="1189.5" y="1346">3045</text>
<rect x="1177" y="1359" width="25" height="26"/><text x="1189.5" y="1372">3046</text>
<rect x="1177" y="1385" width="25" height="26"/><text x="1189.5" y="1398">3047</text>
<rect x="1177" y="1411" width="25" height="26"/><text x="1189.5" y="1424">3048</text>
<rect x="1177" y="1437" width="25" height="24"/><text x="1189.5" y="1449">3049</text>
</g>
<rect class="g" x="699" y="1474" width="13" height="13"/><text x="705.5" y="1481">24</text>
<rect class="p" x="699" y="1487" width="13" height="26"/><text class="v" x="705.5" y="1500" transform="rotate(90 705.5 1500)">3023</text>
<rect class="g" x="699" y="1513" width="13" height="13"/><text x="705.5" y="1520">22</text>
<rect class="o" x="699" y="1526" width="25" height="13"/><text x="711.5" y="1533">3021</text>
<rect class="g" x="724" y="1526" width="13" height="13"/><text x="730.5" y="1533">20</text>
<rect class="p" x="737" y="1526" width="26" height="13"/><text x="750" y="1533">3019</text>
<rect class="p" x="1125" y="1526" width="26" height="13"/><text x="1138" y="1533">3005</text>
<rect class="g" x="1151" y="1526" width="13" height="13"/><text x="1157.5" y="1533">04</text>
<rect class="o" x="1164" y="1526" width="25" height="13"/><text x="1176.5" y="1533">3003</text>
<rect class="g" x="1177" y="1474" width="12" height="13"/><text x="1183" y="1481">00</text>
<rect class="g" x="1177" y="1487" width="12" height="13"/><text x="1183" y="1494">01</text>
<rect class="p" x="1177" y="1500" width="12" height="26"/><text class="v" x="1183" y="1513" transform="rotate(90 1183 1513)">3002</text>
<g class="c">
<rect x="776" y="1525" width="13" height="27"/><text class="v" x="782.5" y="1538" transform="rotate(90 782.5 1538)">3018</text>
<rect x="789" y="1525" width="26" height="27"/><text x="802" y="1539">3017</text>
<rect x="815" y="1525" width="26" height="27"/><text x="828" y="1539">3016</text>
<rect x="841" y="1525" width="25" height="27"/><text x="853.5" y="1539">3015</text>
<rect x="866" y="1525" width="26" height="27"/><text x="879" y="1539">3014</text>
<rect x="892" y="1525" width="39" height="27"/><text x="911.5" y="1539">3013</text>
<rect x="931" y="1525" width="39" height="27"/><text x="950.5" y="1539">3012</text>
<rect x="970" y="1525" width="25" height="27"/><text x="982.5" y="1539">3011</text>
<rect x="995" y="1525" width="26" height="27"/><text x="1008" y="1539">3010</text>
<rect x="1021" y="1525" width="26" height="27"/><text x="1034" y="1539">3009</text>
<rect x="1047" y="1525" width="26" height="27"/><text x="1060" y="1539">3008</text>
<rect x="1073" y="1525" width="26" height="27"/><text x="1086" y="1539">3007</text>
<rect x="1099" y="1525" width="13" height="27"/><text class="v" x="1105.5" y="1538" transform="rotate(90 1105.5 1538)">3006</text>
</g>
<!-- F3 B1 -->
<g class="c">
<rect x="724" y="1228" width="13" height="13"/><text x="730.5" y="1235">84</text>
<rect x="724" y="1241" width="13" height="25"/><text class="v" x="730.5" y="1253" transform="rotate(90 730.5 1253)">3085</text>
<rect x="724" y="1266" width="13" height="39"/><text class="v" x="730.5" y="1286" transform="rotate(90 730.5 1286)">3086</text>
<rect x="737" y="1228" width="26" height="38"/><text x="750" y="1248">3083</text>
<rect x="763" y="1228" width="26" height="38"/><text x="776" y="1248">3082</text>
<rect x="789" y="1228" width="26" height="38"/><text x="802" y="1248">3081</text>
<rect x="815" y="1228" width="26" height="38"/><text x="828" y="1248">3080</text>
<rect x="841" y="1228" width="25" height="38"/><text x="853.5" y="1248">3079</text>
<rect x="866" y="1228" width="26" height="38"/><text x="879" y="1248">3078</text>
<rect x="892" y="1228" width="26" height="38"/><text x="905" y="1248">3077</text>
<rect x="737" y="1266" width="26" height="39"/><text x="750" y="1287">3087</text>
<rect x="763" y="1266" width="26" height="39"/><text x="776" y="1287">3088</text>
<rect x="789" y="1266" width="26" height="39"/><text x="802" y="1287">3089</text>
<rect x="815" y="1266" width="26" height="39"/><text x="828" y="1287">3090</text>
<rect x="841" y="1266" width="25" height="39"/><text x="853.5" y="1287">3091</text>
<rect x="866" y="1266" width="26" height="39"/><text x="879" y="1287">3092</text>
<rect x="892" y="1266" width="26" height="39"/><text x="905" y="1287">3093</text>
<rect x="918" y="1228" width="26" height="52"/><text x="931" y="1255">3076</text>
<rect x="918" y="1280" width="26" height="25"/><text x="931" y="1293">3094</text>
<rect x="944" y="1279" width="26" height="26"/><text x="957" y="1287">3095</text><text x="957" y="1299">10x8</text>
</g>
<rect class="k" x="944" y="1253" width="26" height="26"/><text class="w" x="957" y="1266">ELEV</text>
<g class="c">
<rect x="982" y="1228" width="13" height="13"/><text x="988.5" y="1235">72</text>
<rect x="982" y="1241" width="13" height="25"/><text class="v" x="988.5" y="1253" transform="rotate(90 988.5 1253)">3073</text>
<rect x="982" y="1266" width="13" height="26"/><text class="v" x="988.5" y="1279" transform="rotate(90 988.5 1279)">3074</text>
<rect x="982" y="1292" width="13" height="13"/><text x="988.5" y="1299">75</text>
<rect x="995" y="1228" width="26" height="38"/><text x="1008" y="1248">3071</text>
<rect x="1021" y="1228" width="26" height="38"/><text x="1034" y="1248">3070</text>
<rect x="1047" y="1228" width="26" height="38"/><text x="1060" y="1248">3069</text>
<rect x="1073" y="1228" width="26" height="38"/><text x="1086" y="1248">3068</text>
<rect x="1099" y="1228" width="26" height="38"/><text x="1112" y="1248">3067</text>
<rect x="1125" y="1228" width="25" height="38"/><text x="1137.5" y="1248">3066</text>
<rect x="995" y="1266" width="26" height="39"/><text x="1008" y="1287">3096</text>
<rect x="1021" y="1266" width="26" height="39"/><text x="1034" y="1287">3097</text>
<rect x="1047" y="1266" width="26" height="39"/><text x="1060" y="1287">3098</text>
<rect x="1073" y="1266" width="26" height="39"/><text x="1086" y="1287">3099</text>
<rect x="1099" y="1266" width="26" height="39"/><text x="1112" y="1287">3100</text>
<rect x="1125" y="1266" width="25" height="39"/><text x="1137.5" y="1287">3101</text>
<rect x="1150" y="1228" width="14" height="13"/><text x="1157" y="1235">65</text>
<rect x="1150" y="1241" width="14" height="25"/><text class="v" x="1157" y="1253" transform="rotate(90 1157 1253)">3064</text>
<rect x="1150" y="1266" width="14" height="26"/><text class="v" x="1157" y="1279" transform="rotate(90 1157 1279)">3063</text>
<rect x="1150" y="1292" width="14" height="13"/><text x="1157" y="1299">62</text>
</g>
<!-- F3 B2 -->
<g class="c">
<rect x="724" y="1317" width="13" height="40"/><text x="730.5" y="1325">18</text><text x="730.5" y="1351">19</text>
<rect x="737" y="1317" width="26" height="40"/><text x="750" y="1325">3117</text><text x="750" y="1351">3120</text>
<rect x="763" y="1317" width="26" height="40"/><text x="776" y="1325">3116</text><text x="776" y="1351">3121</text>
<rect x="789" y="1317" width="26" height="40"/><text x="802" y="1325">3115</text><text x="802" y="1351">3122</text>
<rect x="815" y="1317" width="26" height="40"/><text x="828" y="1325">3114</text><text x="828" y="1351">3123</text>
<rect x="841" y="1317" width="25" height="40"/><text x="853.5" y="1325">3113</text><text x="853.5" y="1351">3124</text>
<rect x="866" y="1317" width="26" height="40"/><text x="879" y="1325">3112</text><text x="879" y="1351">3125</text>
<rect x="892" y="1317" width="26" height="40"/><text x="905" y="1325">3111</text><text x="905" y="1351">3126</text>
<rect x="918" y="1317" width="26" height="40"/><text x="931" y="1325">3110</text><text x="931" y="1351">3127</text>
<rect x="944" y="1317" width="26" height="40"/><text x="957" y="1325">3109</text><text x="957" y="1351">3128</text>
<rect x="982" y="1317" width="13" height="40"/><text x="988.5" y="1325">08</text><text x="988.5" y="1351">29</text>
<rect x="995" y="1317" width="26" height="40"/><text x="1008" y="1325">3107</text><text x="1008" y="1351">3130</text>
<rect x="1021" y="1317" width="26" height="40"/><text x="1034" y="1325">3106</text><text x="1034" y="1351">3131</text>
<rect x="1047" y="1317" width="26" height="40"/><text x="1060" y="1325">3105</text><text x="1060" y="1351">3132</text>
<rect x="1073" y="1317" width="26" height="40"/><text x="1086" y="1325">3104</text><text x="1086" y="1351">3133</text>
<rect x="1099" y="1317" width="26" height="40"/><text x="1112" y="1325">3103</text><text x="1112" y="1351">3134</text>
<rect x="1125" y="1317" width="25" height="40"/><text x="1137.5" y="1325">3102</text><text x="1137.5" y="1351">3135</text>
<rect x="1150" y="1317" width="14" height="13"/><text x="1157" y="1324">61</text>
<rect x="1150" y="1330" width="14" height="14"/><text x="1157" y="1337">60</text>
<rect x="1150" y="1344" width="14" height="13"/><text x="1157" y="1351">59</text>
</g>
<line x1="737" y1="1337" x2="970" y2="1337" stroke="#888" stroke-width="1"/>
<line x1="995" y1="1337" x2="1150" y2="1337" stroke="#888" stroke-width="1"/>
<!-- F3 B3 -->
<g class="c">
<rect x="724" y="1370" width="13" height="26"/><text class="v" x="730.5" y="1383" transform="rotate(90 730.5 1383)">3152</text>
<rect x="724" y="1396" width="13" height="25"/><text class="v" x="730.5" y="1408" transform="rotate(90 730.5 1408)">3153</text>
<rect x="737" y="1370" width="26" height="51"/><text x="750" y="1378">3151</text><text x="750" y="1416">3154</text>
<rect x="763" y="1370" width="26" height="51"/><text x="776" y="1378">3150</text><text x="776" y="1416">3155</text>
<rect x="789" y="1370" width="26" height="51"/><text x="802" y="1378">3149</text><text x="802" y="1416">3156</text>
<rect x="815" y="1370" width="26" height="51"/><text x="828" y="1378">3148</text><text x="828" y="1416">3157</text>
<rect x="841" y="1370" width="25" height="51"/><text x="853.5" y="1378">3147</text><text x="853.5" y="1416">3158</text>
<rect x="866" y="1370" width="26" height="51"/><text x="879" y="1378">3146</text><text x="879" y="1416">3159</text>
<rect x="892" y="1370" width="26" height="51"/><text x="905" y="1378">3145</text><text x="905" y="1416">3160</text>
<rect x="918" y="1370" width="26" height="51"/><text x="931" y="1378">3144</text><text x="931" y="1416">3161</text>
<rect x="944" y="1370" width="26" height="51"/><text x="957" y="1378">3143</text><text x="957" y="1416">3162</text>
<rect x="982" y="1370" width="13" height="26"/><text class="v" x="988.5" y="1383" transform="rotate(90 988.5 1383)">3142</text>
<rect x="982" y="1396" width="13" height="25"/><text class="v" x="988.5" y="1408" transform="rotate(90 988.5 1408)">3163</text>
<rect x="995" y="1370" width="26" height="26"/><text x="1008" y="1384">3141</text>
<rect x="1021" y="1370" width="26" height="26"/><text x="1034" y="1384">3140</text>
<rect x="1047" y="1370" width="26" height="26"/><text x="1060" y="1384">3139</text>
<rect x="1073" y="1370" width="26" height="26"/><text x="1086" y="1384">3138</text>
<rect x="1099" y="1370" width="26" height="26"/><text x="1112" y="1384">3137</text>
<rect x="1125" y="1370" width="25" height="26"/><text x="1137.5" y="1384">3136</text>
<rect x="995" y="1396" width="26" height="25"/><text x="1008" y="1409">3164</text>
<rect x="1021" y="1396" width="26" height="25"/><text x="1034" y="1409">3165</text>
<rect x="1047" y="1396" width="26" height="25"/><text x="1060" y="1409">3166</text>
<rect x="1073" y="1396" width="26" height="25"/><text x="1086" y="1409">3167</text>
<rect x="1099" y="1396" width="26" height="25"/><text x="1112" y="1409">3168</text>
<rect x="1125" y="1396" width="25" height="25"/><text x="1137.5" y="1409">3169</text>
<rect x="1150" y="1370" width="14" height="13"/><text x="1157" y="1377">58</text>
<rect x="1150" y="1383" width="14" height="26"/><text class="v" x="1157" y="1396" transform="rotate(90 1157 1396)">3057</text>
<rect x="1150" y="1409" width="14" height="12"/><text x="1157" y="1415">56</text>
</g>
<text x="957" y="1429">10x3</text>
<!-- F3 B4 -->
<g class="c">
<rect x="724" y="1434" width="13" height="13"/><text x="730.5" y="1441">90</text>
<rect x="724" y="1447" width="13" height="26"/><text class="v" x="730.5" y="1460" transform="rotate(90 730.5 1460)">3191</text>
<rect x="724" y="1473" width="13" height="13"/><text x="730.5" y="1480">92</text>
<rect x="724" y="1486" width="13" height="12"/><text x="730.5" y="1492">93</text>
<rect x="724" y="1498" width="13" height="13"/><text x="730.5" y="1505">94</text>
<rect x="737" y="1434" width="26" height="26"/><text x="750" y="1448">3189</text>
<rect x="763" y="1434" width="26" height="26"/><text x="776" y="1448">3188</text>
<rect x="789" y="1434" width="26" height="26"/><text x="802" y="1448">3187</text>
<rect x="815" y="1434" width="26" height="26"/><text x="828" y="1448">3186</text>
<rect x="841" y="1434" width="25" height="26"/><text x="853.5" y="1448">3185</text>
<rect x="866" y="1434" width="26" height="26"/><text x="879" y="1448">3184</text>
<rect x="892" y="1434" width="52" height="26"/><text x="918" y="1448">3183</text>
<rect x="737" y="1460" width="26" height="51"/><text x="750" y="1487">3195</text>
<rect x="763" y="1460" width="26" height="51"/><text x="776" y="1487">3196</text>
<rect x="789" y="1460" width="26" height="51"/><text x="802" y="1487">3197</text>
<rect x="815" y="1460" width="26" height="51"/><text x="828" y="1487">3198</text>
<rect x="841" y="1460" width="25" height="51"/><text x="853.5" y="1487">3199</text>
<rect x="866" y="1460" width="26" height="51"/><text x="879" y="1487">3200</text>
<rect x="892" y="1460" width="26" height="51"/><text x="905" y="1487">3201</text>
<rect x="918" y="1460" width="26" height="51"/><text x="931" y="1487">3202</text>
<rect x="944" y="1434" width="26" height="13"/><text x="957" y="1441">3182</text>
</g>
<rect class="k" x="944" y="1447" width="26" height="13"/>
<rect class="k" x="944" y="1460" width="26" height="26"/><text class="w" x="957" y="1473">ELEV</text>
<g class="c">
<rect x="982" y="1434" width="13" height="13"/><text x="988.5" y="1441">76</text>
<rect x="982" y="1447" width="13" height="13"/><text x="988.5" y="1454">77</text>
<rect x="982" y="1460" width="13" height="13"/><text x="988.5" y="1467">78</text>
<rect x="982" y="1473" width="13" height="13"/><text x="988.5" y="1480">79</text>
<rect x="982" y="1486" width="13" height="12"/><text x="988.5" y="1492">80</text>
<rect x="982" y="1498" width="13" height="13"/><text x="988.5" y="1505">81</text>
<rect x="995" y="1434" width="26" height="39"/><text x="1008" y="1457">3175</text>
<rect x="1021" y="1434" width="26" height="39"/><text x="1034" y="1457">3174</text>
<rect x="1047" y="1434" width="26" height="39"/><text x="1060" y="1457">3173</text>
<rect x="1073" y="1434" width="26" height="39"/><text x="1086" y="1457">3172</text>
<rect x="1099" y="1434" width="26" height="39"/><text x="1112" y="1457">3171</text>
<rect x="1125" y="1434" width="25" height="39"/><text x="1137.5" y="1457">3170</text>
<rect x="995" y="1473" width="26" height="38"/><text x="1008" y="1495">3203</text>
<rect x="1021" y="1473" width="26" height="38"/><text x="1034" y="1495">3204</text>
<rect x="1047" y="1473" width="26" height="38"/><text x="1060" y="1495">3205</text>
<rect x="1073" y="1473" width="26" height="38"/><text x="1086" y="1495">3206</text>
<rect x="1099" y="1473" width="26" height="38"/><text x="1112" y="1495">3207</text>
<rect x="1125" y="1473" width="25" height="38"/><text x="1137.5" y="1495">3208</text>
<rect x="1150" y="1434" width="14" height="13"/><text x="1157" y="1441">55</text>
<rect x="1150" y="1447" width="14" height="13"/><text x="1157" y="1454">54</text>
<rect x="1150" y="1460" width="14" height="13"/><text x="1157" y="1467">53</text>
<rect x="1150" y="1473" width="14" height="13"/><text x="1157" y="1480">52</text>
<rect x="1150" y="1486" width="14" height="12"/><text x="1157" y="1492">51</text>
<rect x="1150" y="1498" width="14" height="13"/><text x="1157" y="1505">50</text>
</g>
</svg>
</body></html>
